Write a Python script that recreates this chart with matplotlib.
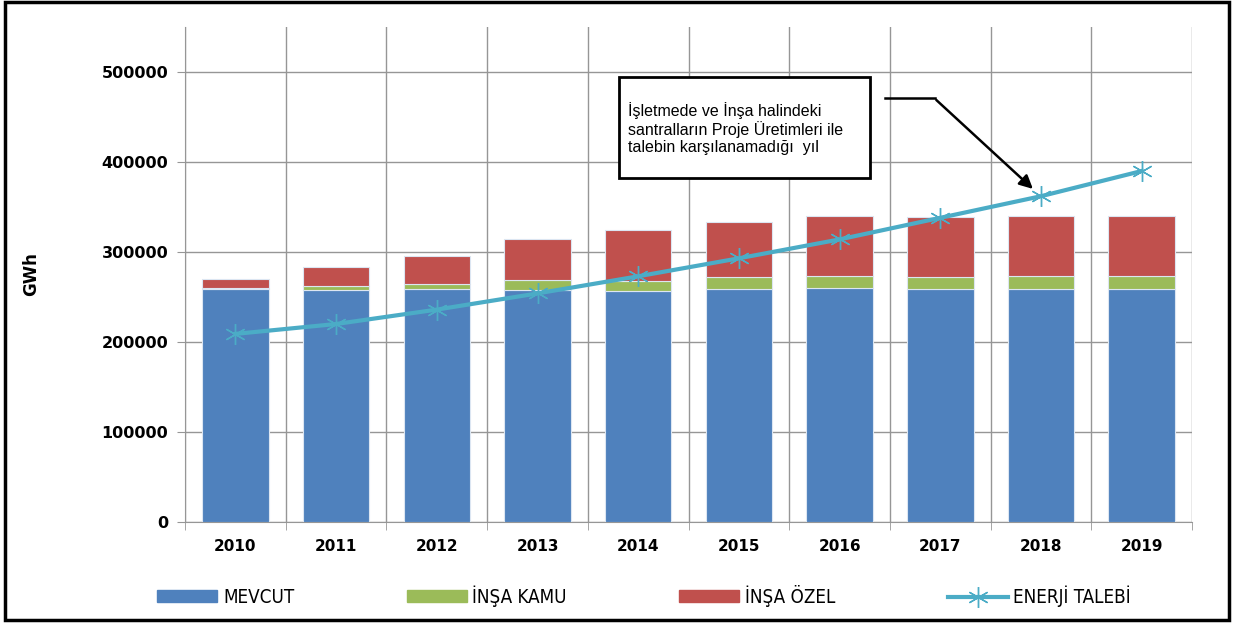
import numpy as np
import matplotlib
matplotlib.use('Agg')
import matplotlib.pyplot as plt
from matplotlib.patches import Patch, Rectangle
from matplotlib.lines import Line2D

# veriler (GWh)
years = ['2010', '2011', '2012', '2013', '2014', '2015', '2016', '2017', '2018', '2019']
mevcut = [259000, 258000, 259000, 258000, 257000, 259000, 260000, 259000, 259000, 259000]
insa_kamu = [1000, 4000, 5000, 11000, 11000, 13000, 13000, 13000, 14000, 14000]
insa_ozel = [10000, 21000, 32000, 46000, 57000, 61000, 67000, 67000, 67000, 67000]
talep = [209000, 220000, 236000, 254000, 273000, 293000, 314000, 338000, 362000, 390000]

c_blue = '#4f81bd'
c_green = '#9bbb59'
c_red = '#c0504d'
c_line = '#4bacc6'

fig = plt.figure(figsize=(12.34, 6.24), dpi=100)
ax = fig.add_axes([0.150, 0.1635, 0.816, 0.7932])

x = np.arange(len(years))
mevcut = np.array(mevcut)
insa_kamu = np.array(insa_kamu)
insa_ozel = np.array(insa_ozel)

w = 0.66
ax.bar(x, mevcut, w, color=c_blue, edgecolor='#dce6f2', linewidth=0.8, zorder=3)
ax.bar(x, insa_kamu, w, bottom=mevcut, color=c_green, edgecolor='#dce6f2', linewidth=0.8, zorder=3)
ax.bar(x, insa_ozel, w, bottom=mevcut + insa_kamu, color=c_red, edgecolor='#dce6f2', linewidth=0.8, zorder=3)
ax.plot(x, talep, color=c_line, lw=3, marker=(6, 2, 0), markersize=15,
        markeredgewidth=1, markeredgecolor=c_line, zorder=4)

ax.set_xlim(-0.5, len(years) - 0.5)
ax.set_ylim(0, 550000)
ax.set_yticks(np.arange(0, 500001, 100000))
ax.set_yticklabels([str(v) for v in range(0, 500001, 100000)], fontsize=11.5, fontweight='bold')
ax.set_xticks(x)
ax.set_xticklabels(years, fontsize=11, fontweight='bold')
ax.set_xticks(np.arange(-0.5, len(years)), minor=True)
ax.tick_params(axis='x', which='major', length=0, pad=12)
ax.tick_params(axis='x', which='minor', length=6, color='#969696')
ax.tick_params(axis='y', length=6, color='#969696', pad=6)
ax.grid(axis='y', color='#969696', lw=1, zorder=0)
ax.grid(axis='x', which='minor', color='#969696', lw=1, zorder=0)
for s in ['top', 'right']:
    ax.spines[s].set_visible(False)
for s in ['left', 'bottom']:
    ax.spines[s].set_color('#969696')
ax.set_ylabel('GWh', fontsize=12, fontweight='semibold', labelpad=44)

# açıklama kutusu ve ok
ax.add_patch(Rectangle((3.81, 382000), 2.49, 112000, fc='white', ec='black', lw=2, zorder=6))
ax.text(3.90, 437000, 'İşletmede ve İnşa halindeki\nsantralların Proje Üretimleri ile\ntalebin karşılanamadığı  yıl',
        fontsize=11.5, family='Liberation Sans', va='center', ha='left', linespacing=1.15, zorder=7)
ax.plot([6.45, 6.95], [471000, 471000], color='black', lw=1.8, zorder=6)
ax.annotate('', xy=(7.94, 368000), xytext=(6.94, 471000),
            arrowprops=dict(arrowstyle='-|>', color='black', lw=1.8, mutation_scale=20), zorder=6)

handles = [Patch(color=c_blue), Patch(color=c_green), Patch(color=c_red),
           Line2D([], [], color=c_line, lw=3, marker=(6, 2, 0), markersize=15, markeredgewidth=1)]
labels = ['MEVCUT', 'İNŞA KAMU', 'İNŞA ÖZEL', 'ENERJİ TALEBİ']
fig.legend(handles, labels, loc='center', bbox_to_anchor=(0.522, 0.045), ncol=4,
           frameon=False, prop={'family': 'DejaVu Sans', 'stretch': 'condensed', 'size': 13.5},
           handlelength=3.2, handleheight=0.6, columnspacing=6.0, handletextpad=0.3)

fig.patches.append(Rectangle((0.004, 0.006), 0.992, 0.99, transform=fig.transFigure,
                             fill=False, ec='black', lw=2.5))

fig.savefig('out.png', dpi=100)
